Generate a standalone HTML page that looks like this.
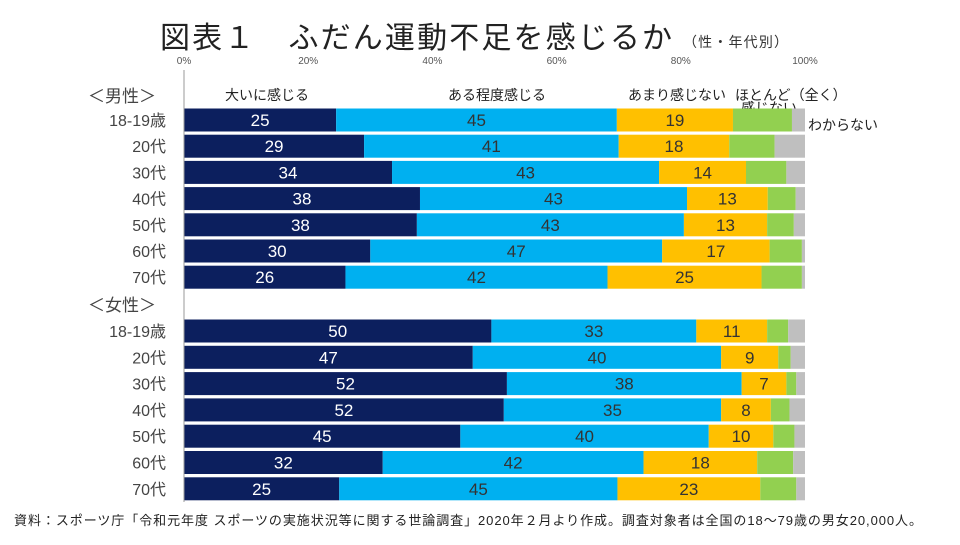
<!DOCTYPE html>
<html><head><meta charset="utf-8"><style>
body{margin:0;background:#fff;font-family:"Liberation Sans","Noto Sans CJK JP",sans-serif;}
svg text{font-family:"Liberation Sans","Noto Sans CJK JP",sans-serif;}
</style></head><body>
<svg id="c" width="960" height="540" viewBox="0 0 960 540">
<text x="160" y="48" font-size="30" fill="#222" textLength="512" lengthAdjust="spacing">図表１　ふだん運動不足を感じるか</text>
<text x="683" y="47" font-size="14" fill="#333" textLength="105">（性・年代別）</text>
<text x="88" y="102" font-size="17" fill="#444">＜男性＞</text>
<text x="88" y="311" font-size="17" fill="#444">＜女性＞</text>
<text x="225" y="100" font-size="14" fill="#222">大いに感じる</text>
<text x="448" y="100" font-size="14" fill="#222">ある程度感じる</text>
<text x="628" y="100" font-size="14" fill="#222">あまり感じない</text>
<text x="735" y="100" font-size="14" fill="#222">ほとんど（全く）</text>
<text x="741" y="113" font-size="14" fill="#222">感じない</text>
<text x="808" y="130" font-size="14" fill="#222">わからない</text>
<text x="14" y="525" font-size="13" fill="#222" textLength="908">資料：スポーツ庁「令和元年度 スポーツの実施状況等に関する世論調査」2020年２月より作成。調査対象者は全国の18～79歳の男女20,000人。</text>
</svg>
<script>
const ageLabels=["18-19歳","20代","30代","40代","50代","60代","70代"];
const tickLabels=["0%","20%","40%","60%","80%","100%"];
const tickValues=[0,20,40,60,80,100];
const maleStrong=[24.5,29,33.5,38,37.5,30,26];
const maleSomewhat=[45.2,41,43,43,43,47,42.2];
const maleNotMuch=[18.7,17.8,14,13,13.4,17.3,24.8];
const maleNotAtAll=[9.5,7.3,6.5,4.5,4.3,5.2,6.5];
const maleUnknown=[2.1,4.9,3,1.5,1.8,0.5,0.5];
const femaleStrong=[49.5,46.5,52,51.5,44.5,32,25];
const femaleSomewhat=[33,40,37.8,35,40,42,44.8];
const femaleNotMuch=[11.4,9.2,7.2,8,10.4,18.3,23];
const femaleNotAtAll=[3.4,2,1.6,3,3.4,5.8,5.8];
const femaleUnknown=[2.7,2.3,1.4,2.5,1.7,1.9,1.4];
// printed value labels
const maleStrongLbl=[25,29,34,38,38,30,26];
const maleSomewhatLbl=[45,41,43,43,43,47,42];
const maleNotMuchLbl=[19,18,14,13,13,17,25];
const femaleStrongLbl=[50,47,52,52,45,32,25];
const femaleSomewhatLbl=[33,40,38,35,40,42,45];
const femaleNotMuchLbl=[11,9,7,8,10,18,23];

const NS="http://www.w3.org/2000/svg";
const svg=document.getElementById('c');
const x0=184,x1=805;
const xs=v=>x0+(x1-x0)*v/100;
function mk(t,a){const e=document.createElementNS(NS,t);for(const k in a)e.setAttribute(k,a[k]);svg.appendChild(e);return e;}
tickValues.forEach((v,i)=>{const t=mk('text',{x:xs(v),y:64,'font-size':10,fill:'#555','text-anchor':'middle'});t.textContent=tickLabels[i];

});
const colors=["#0c1f5e","#00b0f0","#ffc000","#92d050","#bfbfbf"];
const txtCol=["#fff","#333","#333",null,null];
const segNames=["strongly-feel","somewhat-feel","not-much","not-at-all","unknown"];
function group(series,labels,cy0,pitch,prefix){
  for(let i=0;i<ageLabels.length;i++){
    const cy=cy0+i*pitch;
    const l=mk('text',{x:166,y:cy+6,'font-size':16,fill:'#444','text-anchor':'end'});l.textContent=ageLabels[i];
    
    
    let acc=0;
    series.forEach((s,k)=>{
      const v=s[i];
      const r=mk('rect',{x:xs(acc),y:cy-11.5,width:xs(acc+v)-xs(acc),height:23,fill:colors[k]});
      
      
      if(txtCol[k]){const t=mk('text',{x:(xs(acc)+xs(acc+v))/2,y:cy+6,'font-size':17,fill:txtCol[k],'text-anchor':'middle'});t.textContent=labels[k][i];
        
        }
      acc+=v;
    });
  }
}
group([maleStrong,maleSomewhat,maleNotMuch,maleNotAtAll,maleUnknown],[maleStrongLbl,maleSomewhatLbl,maleNotMuchLbl],120,26.2,'male');
group([femaleStrong,femaleSomewhat,femaleNotMuch,femaleNotAtAll,femaleUnknown],[femaleStrongLbl,femaleSomewhatLbl,femaleNotMuchLbl],331,26.3,'female');
const ax=mk('line',{x1:x0,x2:x0,y1:70,y2:502,stroke:'#999','stroke-width':1});


</script>
</body></html>
